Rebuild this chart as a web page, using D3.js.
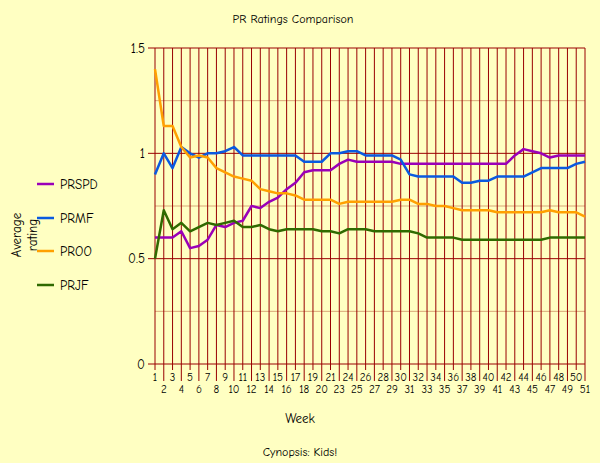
<!DOCTYPE html>
<html><head><meta charset="utf-8">
<script src="https://cdn.jsdelivr.net/npm/d3@7"></script>
<style>
html,body{margin:0;padding:0;background:#FFFFC2;}
svg{display:block;}
text{font-family:"Comic Sans MS","Comic Neue","DejaVu Sans",sans-serif;fill:#000;}
</style></head>
<body>
<script>
const weeks = ["1","2","3","4","5","6","7","8","9","10","11","12","13","14","15","16","17","18","19","20","21","23","24","25","26","27","28","29","30","31","32","33","34","35","36","37","38","39","40","41","42","43","44","45","46","47","48","49","50","51"];
const seriesNames = ["PRSPD","PRMF","PROO","PRJF"];
const seriesColors = ["#9A00B8","#0A5AE0","#FFA000","#2F6A00"];
const PRSPD = [0.60,0.60,0.60,0.63,0.55,0.56,0.59,0.66,0.65,0.67,0.68,0.75,0.74,0.77,0.79,0.83,0.86,0.91,0.92,0.92,0.92,0.95,0.97,0.96,0.96,0.96,0.96,0.96,0.95,0.95,0.95,0.95,0.95,0.95,0.95,0.95,0.95,0.95,0.95,0.95,0.95,0.99,1.02,1.01,1.00,0.98,0.99,0.99,0.99,0.99];
const PRMF = [0.90,1.00,0.93,1.03,1.00,0.98,1.00,1.00,1.01,1.03,0.99,0.99,0.99,0.99,0.99,0.99,0.99,0.96,0.96,0.96,1.00,1.00,1.01,1.01,0.99,0.99,0.99,0.99,0.97,0.90,0.89,0.89,0.89,0.89,0.89,0.86,0.86,0.87,0.87,0.89,0.89,0.89,0.89,0.91,0.93,0.93,0.93,0.93,0.95,0.96];
const PROO = [1.40,1.13,1.13,1.03,0.98,0.99,0.98,0.93,0.91,0.89,0.88,0.87,0.83,0.82,0.81,0.81,0.80,0.78,0.78,0.78,0.78,0.76,0.77,0.77,0.77,0.77,0.77,0.77,0.78,0.78,0.76,0.76,0.75,0.75,0.74,0.73,0.73,0.73,0.73,0.72,0.72,0.72,0.72,0.72,0.72,0.73,0.72,0.72,0.72,0.70];
const PRJF = [0.50,0.73,0.64,0.67,0.63,0.65,0.67,0.66,0.67,0.68,0.65,0.65,0.66,0.64,0.63,0.64,0.64,0.64,0.64,0.63,0.63,0.62,0.64,0.64,0.64,0.63,0.63,0.63,0.63,0.63,0.62,0.60,0.60,0.60,0.60,0.59,0.59,0.59,0.59,0.59,0.59,0.59,0.59,0.59,0.59,0.60,0.60,0.60,0.60,0.60];
const seriesData = [PRSPD, PRMF, PROO, PRJF];
const yTicks = [0, 0.5, 1, 1.5];
const yMinor = [0.25, 0.75, 1.25];

const W = 600, H = 463;
const svg = d3.select("body").append("svg").attr("width", W).attr("height", H);
svg.append("rect").attr("width", W).attr("height", H).attr("fill", "#FFFFC2");

const x = d3.scalePoint().domain(weeks).range([155, 585]);
const y = d3.scaleLinear().domain([0, 1.5]).range([364, 48]);
const gridColor = "#990000";

svg.append("g").selectAll("line").data(yMinor).join("line")
  .attr("x1", 155).attr("x2", 585).attr("y1", d => y(d)).attr("y2", d => y(d))
  .attr("stroke", "#D9A878").attr("stroke-width", 1);

svg.append("g").selectAll("line").data(weeks).join("line")
  .attr("x1", d => x(d)).attr("x2", d => x(d))
  .attr("y1", y(1.5)).attr("y2", (d, i) => i % 2 === 0 ? 370 : 381)
  .attr("stroke", gridColor).attr("stroke-width", 1);

svg.append("g").selectAll("line").data(yTicks).join("line")
  .attr("x1", 148).attr("x2", 585).attr("y1", d => y(d)).attr("y2", d => y(d))
  .attr("stroke", gridColor).attr("stroke-width", 1);

svg.append("g").selectAll("text").data(yTicks).join("text")
  .attr("x", 145).attr("y", d => y(d)).attr("dy", "0.35em")
  .attr("text-anchor", "end").attr("font-size", 13)
  .text(d => d3.format("")(d));

svg.append("g").selectAll("text").data(weeks).join("text")
  .attr("x", d => x(d)).attr("y", (d, i) => i % 2 === 0 ? 381 : 393)
  .attr("text-anchor", "middle").attr("font-size", 11)
  .text(d => d);

const line = d3.line().x((d, i) => x(weeks[i])).y(d => y(d));
seriesData.forEach((s, k) => {
  svg.append("path").datum(s).attr("d", line)
    .attr("fill", "none").attr("stroke", seriesColors[k])
    .attr("stroke-width", 2.5).attr("stroke-linejoin", "round");
});

svg.append("text").attr("x", 293).attr("y", 23).attr("text-anchor", "middle")
  .attr("font-size", 12).text("PR Ratings Comparison");
svg.append("text").attr("x", 300).attr("y", 423).attr("text-anchor", "middle")
  .attr("font-size", 13).text("Week");
svg.append("text").attr("x", 300).attr("y", 456).attr("text-anchor", "middle")
  .attr("font-size", 12).text("Cynopsis: Kids!");
const yt = svg.append("text").attr("transform", "translate(0,235) rotate(-90)")
  .attr("text-anchor", "middle").attr("font-size", 13);
yt.append("tspan").attr("x", 0).attr("y", 21).text("Average");
yt.append("tspan").attr("x", 0).attr("y", 37).text("rating");

const lg = svg.append("g").selectAll("g").data(seriesNames).join("g")
  .attr("transform", (d, i) => `translate(0,${[184, 218, 251, 285][i]})`);
lg.append("line").attr("x1", 37).attr("x2", 54).attr("y1", 0).attr("y2", 0)
  .attr("stroke", (d, i) => seriesColors[i]).attr("stroke-width", 2.5);
lg.append("text").attr("x", 60).attr("y", 0).attr("dy", "0.35em")
  .attr("font-size", 13).text(d => d);
</script>
</body></html>
